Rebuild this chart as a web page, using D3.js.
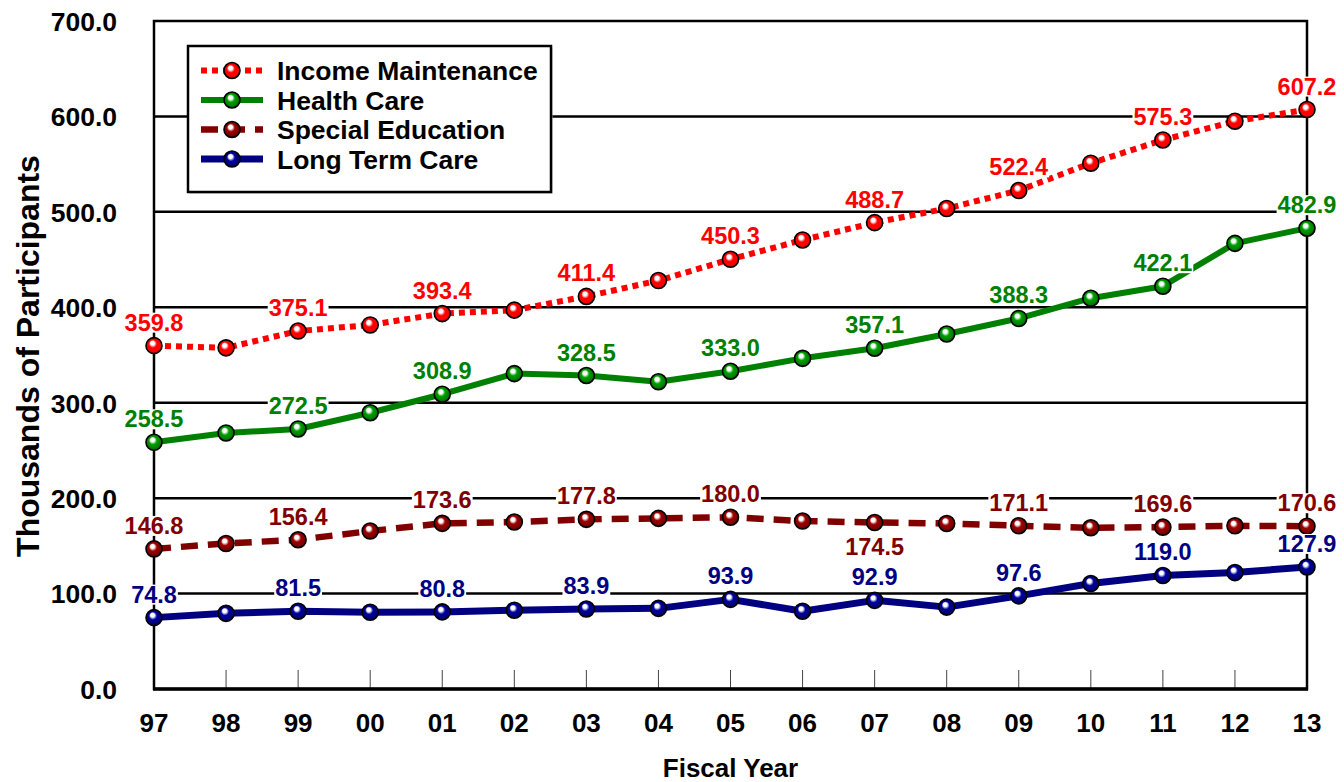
<!DOCTYPE html>
<html>
<head>
<meta charset="utf-8">
<script src="https://cdn.jsdelivr.net/npm/d3@7"></script>
<style>
  body { margin: 0; background: #fff; }
  svg { display: block; font-family: "Liberation Sans", Arial, sans-serif; font-weight: bold; }
</style>
</head>
<body>
<svg width="1344" height="782"></svg>
<script>
// fiscal years (x axis)
const years = ["97", "98", "99", "00", "01", "02", "03", "04", "05", "06", "07", "08", "09", "10", "11", "12", "13"];

// thousands of participants
const incomeMaintenance = [359.8, 357.5, 375.1, 381.5, 393.4, 397.0, 411.4, 428.0, 450.3, 470.5, 488.7, 503.5, 522.4, 551.0, 575.3, 595.0, 607.2];
const healthCare = [258.5, 268.3, 272.5, 289.5, 308.9, 330.5, 328.5, 322.0, 333.0, 346.5, 357.1, 372.0, 388.3, 409.5, 422.1, 467.0, 482.9];
const specialEducation = [146.8, 152.5, 156.4, 165.5, 173.6, 175.0, 177.8, 178.8, 180.0, 176.0, 174.5, 173.5, 171.1, 169.0, 169.6, 171.0, 170.6];
const longTermCare = [74.8, 79.3, 81.5, 80.5, 80.8, 82.5, 83.9, 84.5, 93.9, 81.5, 92.9, 85.8, 97.6, 110.5, 119.0, 122.0, 127.9];

const yTicks = [0, 100, 200, 300, 400, 500, 600, 700];

// series: name, values, colour, dash pattern, line width
const series = [
    { name: "Income Maintenance", values: incomeMaintenance, color: "#ff0000", dash: "6,5", width: 6 },
    { name: "Health Care", values: healthCare, color: "#008000", dash: null, width: 6 },
    { name: "Special Education", values: specialEducation, color: "#800000", dash: "17,10", width: 6.5 },
    { name: "Long Term Care", values: longTermCare, color: "#000080", dash: null, width: 7 }
];

// labels shown under the point instead of above it
const labelsBelow = { "Special Education": ["07"] };

const svg = d3.select("svg");
const margens = { left: 154, right: 37, top: 21, bottom: 93 };
const width = 1344, height = 782;

const x = d3.scalePoint()
    .domain(years)
    .range([margens.left, width - margens.right]);

const y = d3.scaleLinear()
    .domain([0, 700])
    .range([height - margens.bottom, margens.top]);

const fmt = d3.format(".1f");

// gradientes para as bolinhas 3D
const defs = svg.append("defs");
series.forEach((s, i) => {
    const g = defs.append("radialGradient")
        .attr("id", "ball" + i)
        .attr("cx", "50%").attr("cy", "50%").attr("r", "55%")
        .attr("fx", "38%").attr("fy", "30%");
    const c = d3.color(s.color);
    g.append("stop").attr("offset", "0%").attr("stop-color", "#ffffff");
    g.append("stop").attr("offset", "22%").attr("stop-color", "#ffffff");
    g.append("stop").attr("offset", "45%").attr("stop-color", c.brighter(0.6));
    g.append("stop").attr("offset", "75%").attr("stop-color", c);
    g.append("stop").attr("offset", "100%").attr("stop-color", c.darker(1.2));
});

// grid lines
svg.append("g")
    .selectAll("line")
    .data(yTicks.filter(d => d > 0 && d < 700))
    .join("line")
    .attr("x1", x.range()[0]).attr("x2", x.range()[1])
    .attr("y1", d => y(d)).attr("y2", d => y(d))
    .attr("stroke", "#000").attr("stroke-width", 2.5);

// x ticks pointing inside
svg.append("g")
    .selectAll("line")
    .data(years)
    .join("line")
    .attr("x1", d => x(d)).attr("x2", d => x(d))
    .attr("y1", y(0)).attr("y2", y(0) - 19)
    .attr("stroke", "#444").attr("stroke-width", 1);

// frame
svg.append("rect")
    .attr("x", x.range()[0]).attr("y", y(700))
    .attr("width", x.range()[1] - x.range()[0])
    .attr("height", y(0) - y(700))
    .attr("fill", "none")
    .attr("stroke", "#000").attr("stroke-width", 2.5);
svg.append("line")
    .attr("x1", x.range()[0] - 1).attr("x2", x.range()[1] + 1)
    .attr("y1", y(0)).attr("y2", y(0))
    .attr("stroke", "#000").attr("stroke-width", 3.5);

// y tick labels
svg.append("g")
    .selectAll("text")
    .data(yTicks)
    .join("text")
    .attr("x", 117)
    .attr("y", d => y(d))
    .attr("dy", "0.37em")
    .attr("text-anchor", "end")
    .attr("font-size", 26.5)
    .text(d => fmt(d));

// x tick labels
svg.append("g")
    .selectAll("text")
    .data(years)
    .join("text")
    .attr("x", d => x(d))
    .attr("y", 732)
    .attr("text-anchor", "middle")
    .attr("font-size", 26)
    .text(d => d);

// axis titles
svg.append("text")
    .attr("x", (x.range()[0] + x.range()[1]) / 2)
    .attr("y", 777)
    .attr("text-anchor", "middle")
    .attr("font-size", 26)
    .text("Fiscal Year");

svg.append("text")
    .attr("transform", "translate(39,356) rotate(-90)")
    .attr("text-anchor", "middle")
    .attr("font-size", 32)
    .text("Thousands of Participants");

// lines
const line = d3.line()
    .x((d, i) => x(years[i]))
    .y(d => y(d));

series.forEach(s => {
    svg.append("path")
        .datum(s.values)
        .attr("fill", "none")
        .attr("stroke", s.color)
        .attr("stroke-width", s.width)
        .attr("stroke-dasharray", s.dash)
        .attr("stroke-linejoin", "round")
        .attr("d", line);
});

// markers
series.forEach((s, si) => {
    svg.append("g")
        .selectAll("circle")
        .data(s.values)
        .join("circle")
        .attr("cx", (d, i) => x(years[i]))
        .attr("cy", d => y(d))
        .attr("r", 8)
        .attr("fill", `url(#ball${si})`)
        .attr("stroke", "#000")
        .attr("stroke-width", 1.6);
});

// value labels every other year, white box behind
const labelLayer = svg.append("g");
series.forEach(s => {
    s.values.forEach((v, i) => {
        if (i % 2 !== 0) return;
        const below = (labelsBelow[s.name] || []).includes(years[i]);
        const g = labelLayer.append("g");
        const t = g.append("text")
            .attr("x", x(years[i]))
            .attr("y", below ? y(v) + 33 : y(v) - 15)
            .attr("text-anchor", "middle")
            .attr("font-size", 23.5)
            .attr("fill", s.color)
            .text(fmt(v));
        const bb = t.node().getBBox();
        g.insert("rect", "text")
            .attr("x", bb.x - 1).attr("y", bb.y + 3)
            .attr("width", bb.width + 2).attr("height", bb.height - 6)
            .attr("fill", "#fff");
    });
});

// legend
const legend = svg.append("g").attr("transform", "translate(188,46)");
legend.append("rect")
    .attr("x", 1.5).attr("y", 1.5)
    .attr("width", 363).attr("height", 146)
    .attr("fill", "#bbb");
legend.append("rect")
    .attr("width", 363).attr("height", 146)
    .attr("fill", "#fff")
    .attr("stroke", "#000").attr("stroke-width", 2.5);

series.forEach((s, i) => {
    const row = legend.append("g").attr("transform", `translate(0,${24.5 + i * 29.5})`);
    row.append("line")
        .attr("x1", 13).attr("x2", 75)
        .attr("stroke", s.color)
        .attr("stroke-width", s.width)
        .attr("stroke-dasharray", s.dash);
    row.append("circle")
        .attr("cx", 44).attr("r", 8)
        .attr("fill", `url(#ball${i})`)
        .attr("stroke", "#000").attr("stroke-width", 1.6);
    row.append("text")
        .attr("x", 89)
        .attr("dy", "0.36em")
        .attr("font-size", 26.5)
        .text(s.name);
});
</script>
</body>
</html>
